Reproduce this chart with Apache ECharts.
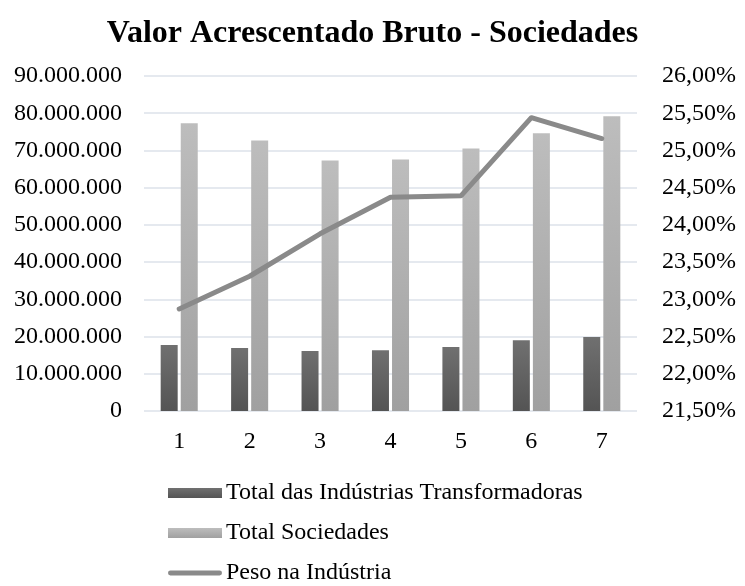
<!DOCTYPE html>
<html>
<head>
<meta charset="utf-8">
<script src="https://cdn.jsdelivr.net/npm/echarts@6/dist/echarts.min.js"></script>
<style>
  html, body { margin: 0; padding: 0; background: #fff; }
  #main { width: 745px; height: 586px; }
</style>
</head>
<body>
<div id="main"></div>
<script>
var categorias = ["1", "2", "3", "4", "5", "6", "7"];
var industrias = [17700000, 16900000, 16100000, 16300000, 17200000, 19000000, 19900000];
var sociedades = [77300000, 72700000, 67300000, 67600000, 70500000, 74600000, 79200000];
var peso = [22.87, 23.31, 23.88, 24.37, 24.39, 25.44, 25.16];

var fonte = "'Liberation Serif', 'Times New Roman', serif";

function grad(topo, base) {
    return new echarts.graphic.LinearGradient(0, 0, 0, 1, [
        { offset: 0, color: topo },
        { offset: 1, color: base }
    ]);
}

function milhares(v) {
    return String(v).replace(/\B(?=(\d{3})+(?!\d))/g, ".");
}

var myChart = echarts.init(document.getElementById('main'));

// icone da legenda da linha (barra fina de pontas redondas)
var iconeLinha = 'path://M2.5,0 L53.5,0 A2.5,2.5 0 0 1 53.5,5 L2.5,5 A2.5,2.5 0 0 1 2.5,0 Z';

var option = {
    animation: false,
    title: {
        text: 'Valor Acrescentado Bruto - Sociedades',
        left: 'center',
        top: 13,
        textStyle: { fontFamily: fonte, fontSize: 32, fontWeight: 'bold', color: '#000' }
    },
    grid: { left: 144, right: 108, top: 76, bottom: 175 },
    legend: {
        orient: 'vertical',
        left: 168,
        top: 481,
        padding: 0,
        itemWidth: 54,
        itemHeight: 10,
        itemGap: 16,
        textStyle: { fontFamily: fonte, fontSize: 24, color: '#000', padding: [0, 0, 0, -1] },
        data: [
            { name: 'Total das Indústrias Transformadoras', icon: 'rect' },
            { name: 'Total Sociedades', icon: 'rect' },
            { name: 'Peso na Indústria', icon: iconeLinha, itemStyle: { color: '#8a8a8a' } }
        ]
    },
    xAxis: {
        type: 'category',
        data: categorias,
        axisLine: { show: false },
        axisTick: { show: false },
        axisLabel: { fontFamily: fonte, fontSize: 24, color: '#000', margin: 19 }
    },
    yAxis: [
        {
            type: 'value',
            min: 0,
            max: 90000000,
            interval: 10000000,
            axisLabel: {
                fontFamily: fonte, fontSize: 24, color: '#000', margin: 22,
                formatter: function (v) { return milhares(v); }
            },
            splitLine: { lineStyle: { color: '#dde2ea', width: 1.5 } }
        },
        {
            type: 'value',
            min: 21.5,
            max: 26,
            interval: 0.5,
            axisLabel: {
                fontFamily: fonte, fontSize: 24, color: '#000', margin: 25,
                formatter: function (v) { return v.toFixed(2).replace('.', ',') + '%'; }
            },
            splitLine: { show: false }
        }
    ],
    series: [
        {
            name: 'Total das Indústrias Transformadoras',
            type: 'bar',
            data: industrias,
            barWidth: 17,
            barGap: '18%',
            itemStyle: { color: grad('#707070', '#545454') }
        },
        {
            name: 'Total Sociedades',
            type: 'bar',
            data: sociedades,
            barWidth: 17,
            itemStyle: { color: grad('#bdbdbd', '#a0a0a0') }
        },
        {
            name: 'Peso na Indústria',
            type: 'line',
            yAxisIndex: 1,
            data: peso,
            symbol: 'none',
            lineStyle: { color: '#8a8a8a', width: 5, cap: 'round', join: 'round' },
            itemStyle: { color: '#8a8a8a' }
        }
    ]
};

myChart.setOption(option);
window.onresize = myChart.resize;
</script>
</body>
</html>
